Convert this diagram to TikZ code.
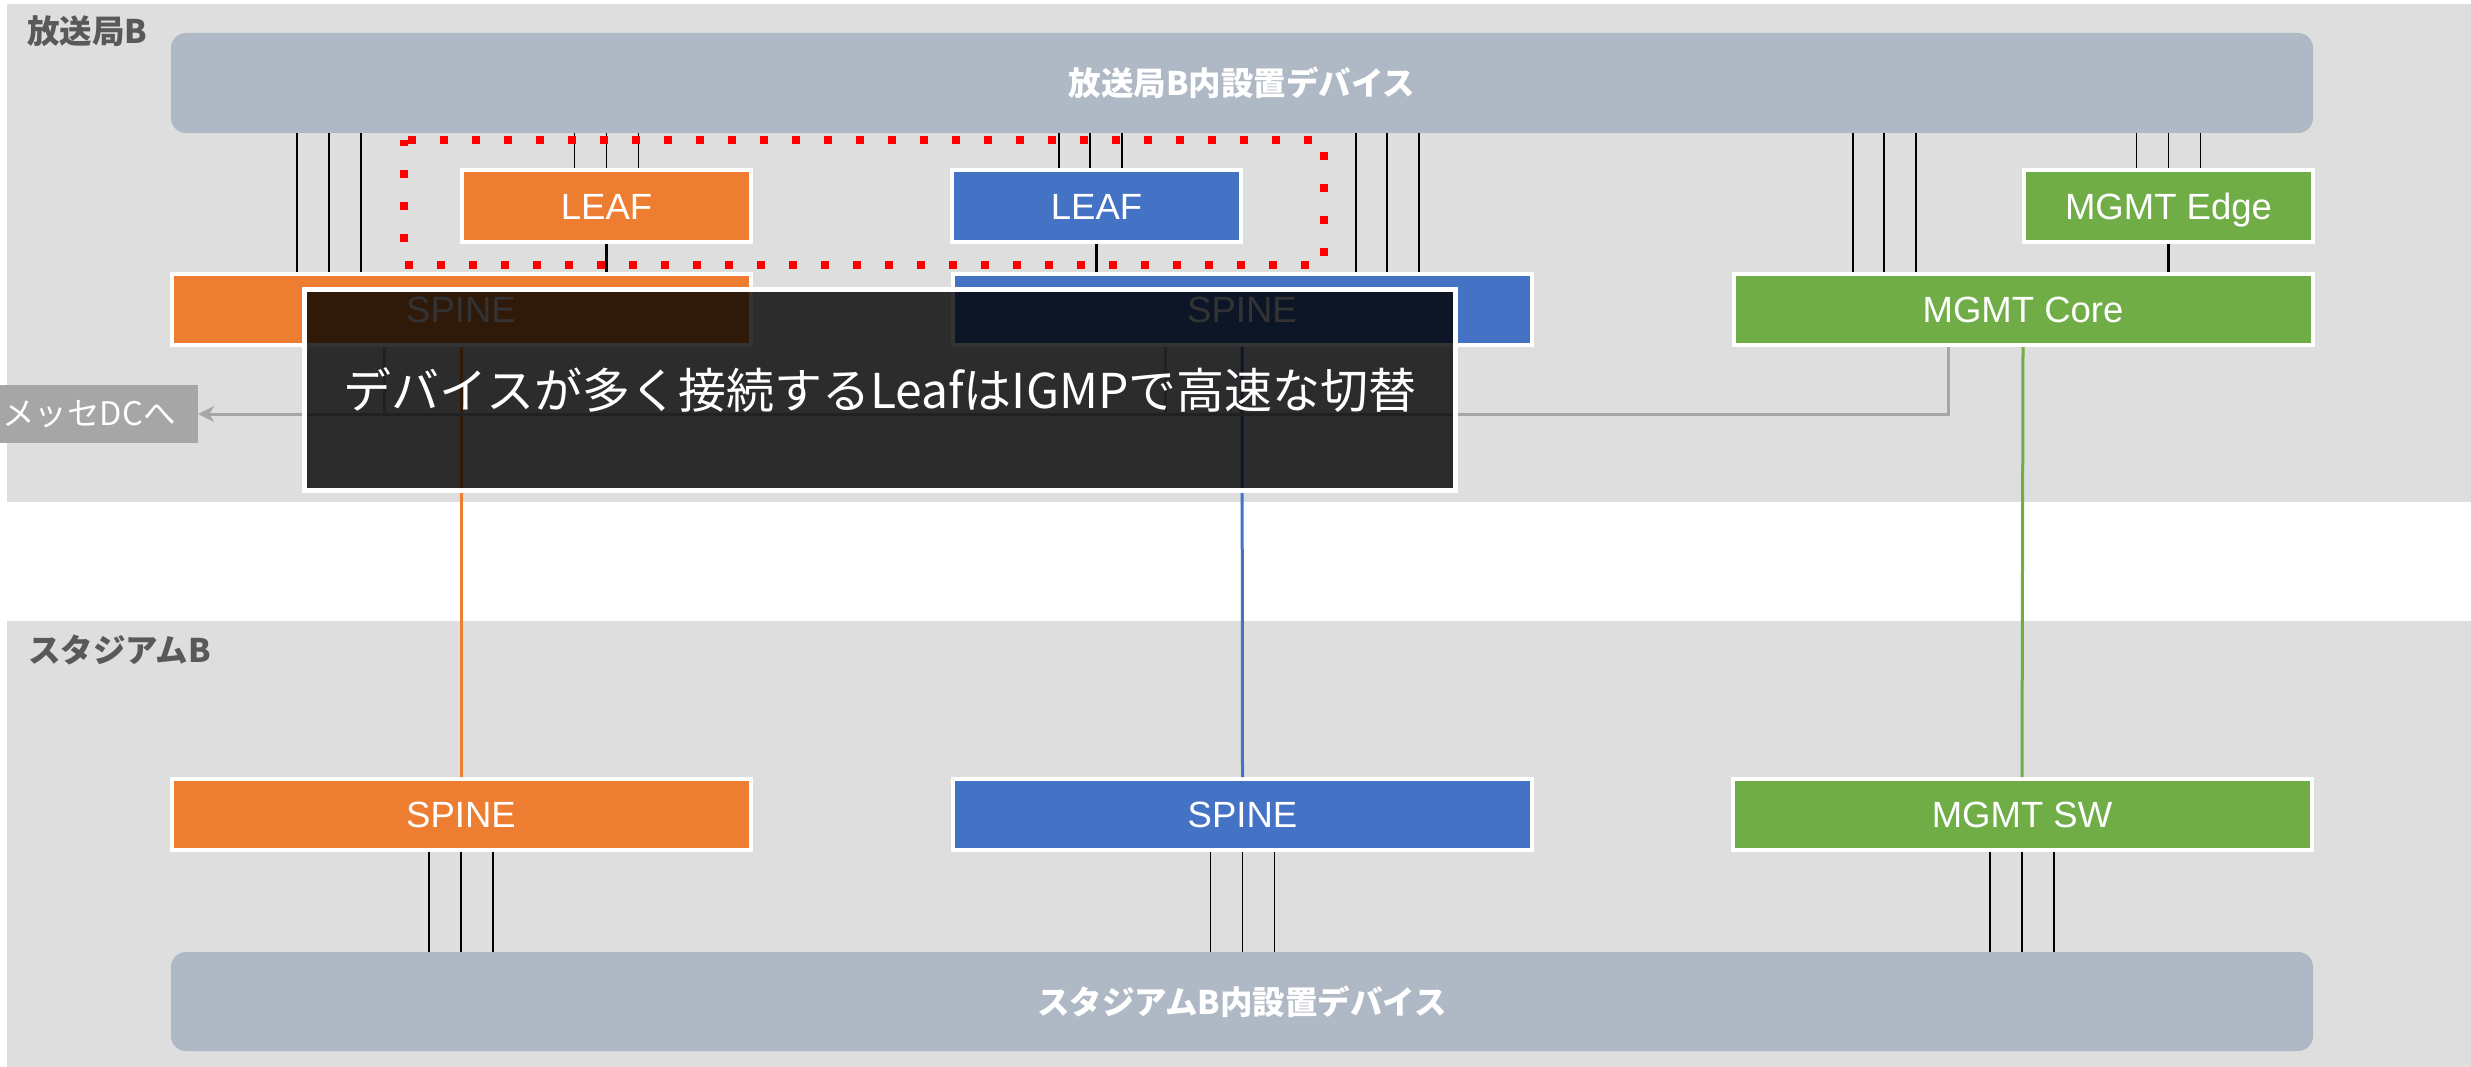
\documentclass[tikz,border=0pt]{standalone}
\usepackage{fontspec}
\setmainfont{Liberation Sans}
\newfontfamily\jp{Noto Sans CJK JP}
\usetikzlibrary{arrows.meta}
\definecolor{panel}{HTML}{DEDEDE}
\definecolor{dev}{HTML}{AFB8C5}
\definecolor{org}{HTML}{ED7D31}
\definecolor{blu}{HTML}{4472C4}
\definecolor{grn}{HTML}{70AD47}
\definecolor{conn}{HTML}{A6A6A6}
\definecolor{lbl}{HTML}{595959}
\begin{document}
\begin{tikzpicture}[x=1pt,y=-1pt,
  swbox/.style={draw=white, line width=4pt, minimum width=579pt, minimum height=71pt, inner sep=0pt, text height=26.5pt, text depth=0pt, text=white, font=\fontsize{36.5}{40}\selectfont},
  leafbox/.style={swbox, minimum width=289pt, minimum height=72pt},
  devbox/.style={fill=dev, rounded corners=15pt, minimum width=2142pt, minimum height=100pt, inner sep=0pt, text=white, font=\jp\bfseries\fontsize{32.5}{38}\selectfont},
  arealabel/.style={anchor=west, inner sep=0pt, text=lbl, font=\jp\bfseries\fontsize{32.5}{38}\selectfont},
  thin/.style={black, line width=1.5pt},
  thick/.style={black, line width=3pt},
  uplink/.style={line width=3pt},
  grayline/.style={conn, line width=3pt},
  callout/.style={fill=black, fill opacity=0.8, text opacity=1, draw=white, line width=5pt, text=white, inner sep=0pt, font=\jp\fontsize{48}{54}\selectfont}
]
\useasboundingbox (0,0) rectangle (2471,1067);
\fill[white] (0,0) rectangle (2471,1067);
% panels
\fill[panel] (7,4) rectangle (2471,502);
\fill[panel] (7,621) rectangle (2471,1067);
\node[arealabel] (lblA) at (27,31) {放送局B};
\node[arealabel] (lblB) at (28,650) {スタジアムB};

% device boxes
\node[devbox] (topdev) at (1242,83) {放送局B内設置デバイス};
\node[devbox, minimum height=99pt] (botdev) at (1242,1001.5) {スタジアムB内設置デバイス};

% switches (top)
\node[leafbox, fill=org] (leafO) at (606.5,206) {LEAF};
\node[leafbox, fill=blu] (leafB) at (1096.5,206) {LEAF};
\node[leafbox, fill=grn] (edge) at (2168.5,206) {MGMT Edge};
\node[swbox, fill=org] (spineO) at (461,309.5) {SPINE};
\node[swbox, fill=blu] (spineB) at (1242,309.5) {SPINE};
\node[swbox, fill=grn] (core) at (2023,309.5) {MGMT Core};
% switches (bottom)
\node[swbox, fill=org] (spineO2) at (461,814.5) {SPINE};
\node[swbox, fill=blu] (spineB2) at (1242.5,814.5) {SPINE};
\node[swbox, fill=grn] (mgsw) at (2022,814.5) {MGMT SW};

% device links
\foreach \d in {-32,0,32} \draw[thin] ([xshift=\d pt]leafO.north) -- ([xshift=\d pt]leafO.north |- topdev.south);
\foreach \d in {-37.5,-6.5,25.5} \draw[thin] ([xshift=\d pt]leafB.north) -- ([xshift=\d pt]leafB.north |- topdev.south);
\foreach \d in {-32,0,32} \draw[thin] ([xshift=\d pt]edge.north) -- ([xshift=\d pt]edge.north |- topdev.south);
\foreach \d in {-164,-132,-100} \draw[thin] ([xshift=\d pt]spineO.north) -- ([xshift=\d pt]spineO.north |- topdev.south);
\foreach \d in {114,145,177} \draw[thin] ([xshift=\d pt]spineB.north) -- ([xshift=\d pt]spineB.north |- topdev.south);
\foreach \d in {-170,-139,-107} \draw[thin] ([xshift=\d pt]core.north) -- ([xshift=\d pt]core.north |- topdev.south);
\foreach \d in {-32,0,32} \draw[thin] ([xshift=\d pt]spineO2.south) -- ([xshift=\d pt]spineO2.south |- botdev.north);
\foreach \d in {-32,0,32} \draw[thin] ([xshift=\d pt]spineB2.south) -- ([xshift=\d pt]spineB2.south |- botdev.north);
\foreach \d in {-32,0,32} \draw[thin] ([xshift=\d pt]mgsw.south) -- ([xshift=\d pt]mgsw.south |- botdev.north);

% leaf-spine links
\draw[thick] (leafO.south) -- (leafO.south |- spineO.north);
\draw[thick] (leafB.south) -- (leafB.south |- spineB.north);
\draw[thick] (edge.south) -- (edge.south |- core.north);

% inter-site links
\draw[uplink, org] (spineO.south) -- (spineO2.north);
\draw[uplink, blu] (spineB.south) -- (spineB2.north);
\draw[uplink, grn] (core.south) -- (mgsw.north);

% to Messe DC
\node[fill=conn, minimum width=218pt, minimum height=58pt, inner sep=0pt, text=white, font=\jp\fontsize{32.5}{38}\selectfont] (messe) at (89,414) {メッセDCへ};
\draw[grayline, -{Stealth[length=16pt,width=16pt,inset=5pt]}] ([xshift=-75pt]core.south) |- (messe.east);
\draw[grayline] ([xshift=-77pt]spineO.south) -- ([xshift=-77pt]spineO.south |- messe.east);
\draw[grayline] ([xshift=-77pt]spineB.south) -- ([xshift=-77pt]spineB.south |- messe.east);

% red dotted highlight
\draw[red, line width=8pt, dash pattern=on 8pt off 24pt, dash phase=28pt] (404,140) -- (1324,140) -- (1324,265) -- (404,265) -- cycle;

% callout
\node[callout, minimum width=1151pt, minimum height=200pt] (note) at (880,390) {デバイスが多く接続するLeafはIGMPで高速な切替};
\end{tikzpicture}
\end{document}
